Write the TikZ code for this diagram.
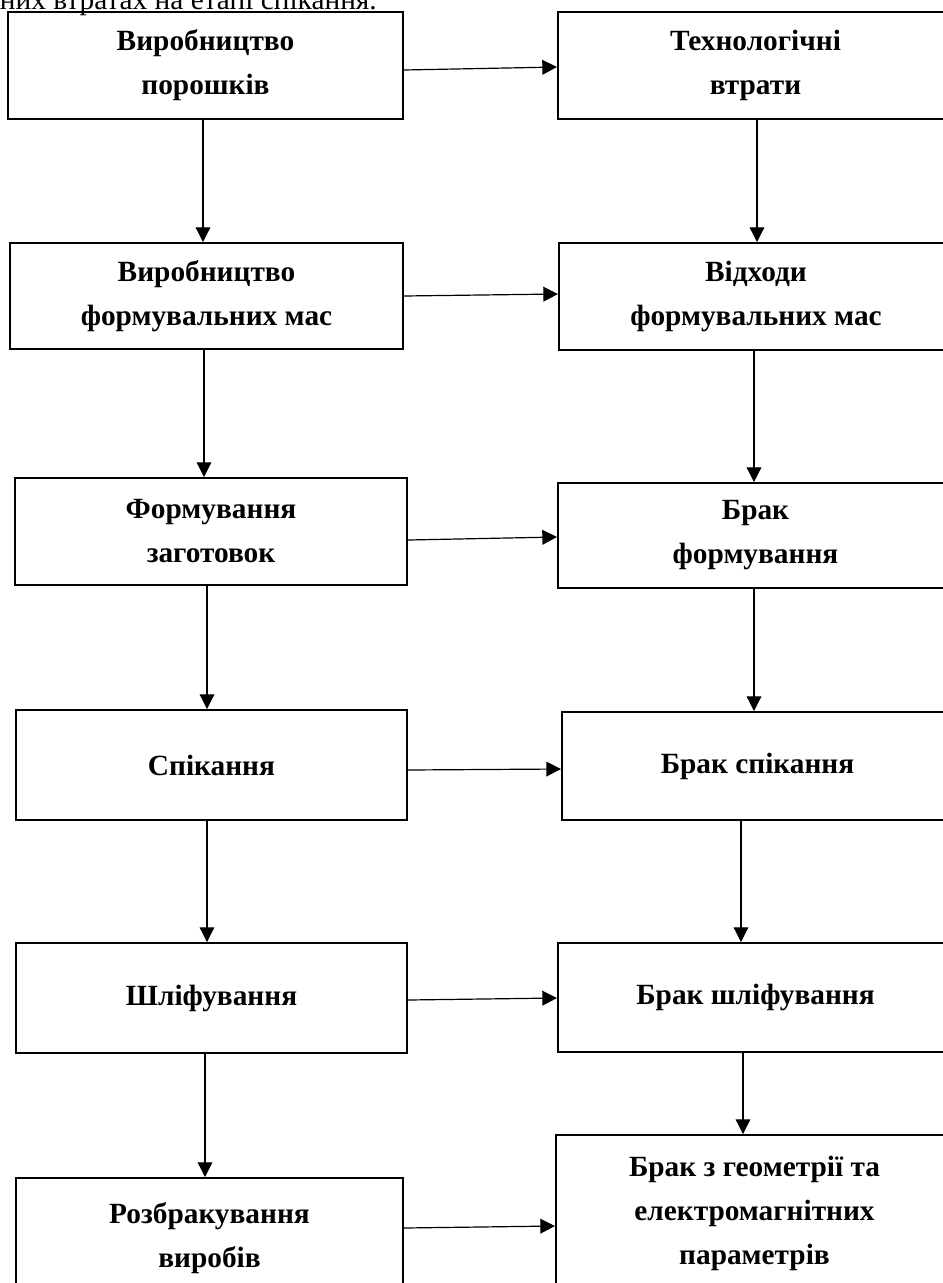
\documentclass[tikz,border=0pt]{standalone}
\usepackage{fontspec}
\setmainfont{Liberation Serif}
\usetikzlibrary{arrows.meta}
\tikzset{
  box/.style n args={2}{draw, line width=1.5pt, inner sep=0pt, rectangle,
    minimum width=#1*0.75pt, minimum height=#2*0.75pt,
    font=\fontsize{22}{33}\selectfont\bfseries, align=center},
  arr/.style={line width=0.9pt, -{Triangle[length=11pt,width=11pt]}},
}
\begin{document}
\begin{tikzpicture}[x=0.75pt,y=-0.75pt]
\useasboundingbox (0,0) rectangle (943,1283);
\clip (0,0) rectangle (943,1283);
\node[anchor=base east, font=\fontsize{22}{33}\selectfont, inner sep=0pt] (head) at (377,9) {мінімальних втратах на етапі спікання.};
% left column
\node[box={395}{107}] (l1) at (205.5,65.5) {Виробництво\\порошків};
\node[box={393}{106}] (l2) at (206.5,296) {Виробництво\\формувальних мас};
\node[box={392}{107}] (l3) at (211,531.5) {Формування\\заготовок};
\node[box={391}{110}] (l4) at (211.5,765) {Спікання};
\node[box={391}{110}] (l5) at (211.5,998) {Шліфування};
\node[box={387}{120}] (l6) at (209.5,1238) {Розбракування\\виробів};
% right column
\node[box={395}{107}] (r1) at (755.5,65.5) {Технологічні\\втрати};
\node[box={394}{107}] (r2) at (756,296.5) {Відходи\\формувальних мас};
\node[box={395}{105}] (r3) at (755.5,535.5) {Брак\\формування};
\node[box={391}{108}] (r4) at (757.5,766) {Брак спікання};
\node[box={395}{109}] (r5) at (755.5,997.5) {Брак шліфування};
\node[box={397}{156}] (r6) at (754.5,1213) {Брак з геометрії та\\електромагнітних\\параметрів};
% horizontal arrows
\draw[arr] (l1.east |- 0,70) -- (r1.west |- 0,67);
\draw[arr] (l2.east |- 0,296) -- (r2.west |- 0,294);
\draw[arr] (l3.east |- 0,540) -- (r3.west |- 0,537);
\draw[arr] (l4.east |- 0,770) -- (r4.west |- 0,769);
\draw[arr] (l5.east |- 0,1000) -- (r5.west |- 0,998);
\draw[arr] (l6.east |- 0,1228) -- (r6.west |- 0,1226);
% vertical arrows left
\draw[arr] (l1.south -| 203,0) -- (l2.north -| 203,0);
\draw[arr] (l2.south -| 204,0) -- (l3.north -| 204,0);
\draw[arr] (l3.south -| 207,0) -- (l4.north -| 207,0);
\draw[arr] (l4.south -| 207,0) -- (l5.north -| 207,0);
\draw[arr] (l5.south -| 205,0) -- (l6.north -| 205,0);
% vertical arrows right
\draw[arr] (r1.south -| 757,0) -- (r2.north -| 757,0);
\draw[arr] (r2.south -| 754,0) -- (r3.north -| 754,0);
\draw[arr] (r3.south -| 754,0) -- (r4.north -| 754,0);
\draw[arr] (r4.south -| 741,0) -- (r5.north -| 741,0);
\draw[arr] (r5.south -| 743,0) -- (r6.north -| 743,0);
\end{tikzpicture}
\end{document}
